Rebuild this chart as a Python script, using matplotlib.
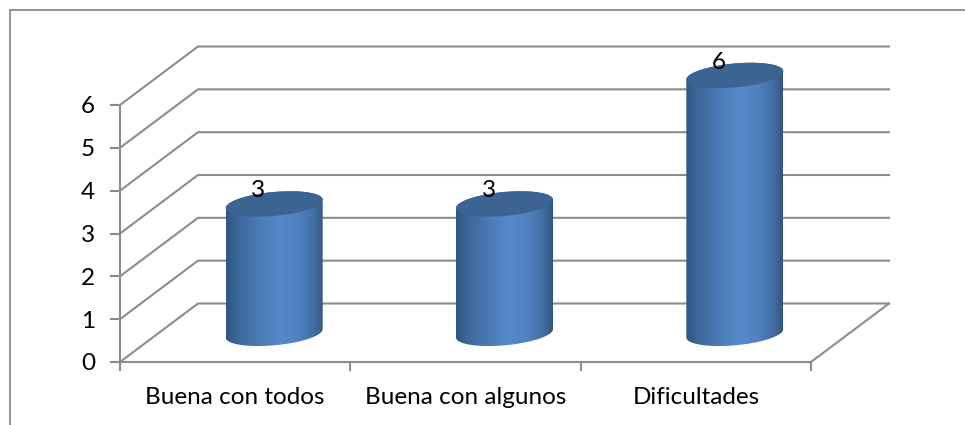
import numpy as np
import matplotlib
matplotlib.use('Agg')
import matplotlib.pyplot as plt
from matplotlib.colors import LinearSegmentedColormap
from matplotlib.patches import Polygon

categories = ['Buena con todos', 'Buena con algunos', 'Dificultades']
values = [3, 3, 6]
y_ticks = [0, 1, 2, 3, 4, 5, 6]

plt.rcParams['font.family'] = ['Lato', 'DejaVu Sans']

W, H = 965, 425
fig = plt.figure(figsize=(W / 100, H / 100), dpi=100)

px_x = 3 / 691
px_y = 6 / 257

# whole figure is one axes: x in categories, y in values (front plane of the 3d box)
ax = fig.add_axes([0, 0, 1, 1])
ax.set_xlim(-120 * px_x, (W - 120) * px_x)
ax.set_ylim(-(H - 362) * px_y, 362 * px_y)
ax.axis('off')

dx = 78 * px_x   # depth of the 3d box
dy = 58.5 * px_y
grid_c = '#8c8c8c'

# outer frame of the pasted chart, no right or bottom side
left, right = ax.get_xlim()
low, high = ax.get_ylim()
ax.plot([left + 10 * px_x, left + 10 * px_x, right], [low, high - 10 * px_y, high - 10 * px_y],
        color='#8a8a8a', lw=1.3, solid_joinstyle='miter', zorder=1)

for v in y_ticks:
    ax.plot([0, dx, 3 + dx], [v, v + dy, v + dy], color=grid_c, lw=1.5,
            solid_joinstyle='miter', zorder=1)
    ax.plot([-9 * px_x, 0], [v, v], color=grid_c, lw=1.5, zorder=1)
    ax.text(-25 * px_x, v - 2 * px_y, str(v), ha='right', va='center', fontsize=17.5, color='black')

ax.plot([0, 0], [0, 6], color=grid_c, lw=1.5, zorder=1)
ax.plot([0, 3, 3 + dx], [0, 0, dy], color=grid_c, lw=1.5, zorder=1)
for i in range(4):
    ax.plot([i, i], [0, -8 * px_y], color=grid_c, lw=1.5, zorder=1)

for i, c in enumerate(categories):
    ax.text(i + 0.5, -36 * px_y, c, ha='center', va='center', fontsize=17.5, color='black')

cmap = LinearSegmentedColormap.from_list('cyl', [
    (0.0, '#2f5684'), (0.12, '#3d6799'), (0.35, '#4b7cb6'), (0.55, '#5589c9'),
    (0.75, '#4f81bd'), (0.9, '#426ea3'), (1.0, '#32557f')])
grad = np.linspace(0, 1, 256).reshape(1, -1)

half_w = 48.5 * px_x
ry = 12 * px_y
tilt = 4.2 * px_y / half_w
t = np.linspace(0, 2 * np.pi, 181)

for i, v in enumerate(values):
    cx = i + 0.5 + 39 * px_x
    y0 = 0.67
    y1 = v + 0.69
    ex = half_w * np.cos(t)
    ey = ry * np.sin(t) + tilt * ex

    # body outline = bottom half of the base + top half of the lid
    lo = t[t >= np.pi]
    lx = half_w * np.cos(lo)
    ly = ry * np.sin(lo) + tilt * lx + y0
    up = t[t <= np.pi]
    ux = half_w * np.cos(up)
    uy = ry * np.sin(up) + tilt * ux + y1
    pts = np.column_stack([np.r_[cx + lx, cx + ux], np.r_[ly, uy]])
    body = Polygon(pts, closed=True, transform=ax.transData, fc='none', ec='none')
    ax.add_patch(body)
    im = ax.imshow(grad, cmap=cmap, aspect='auto', zorder=3,
                   extent=[cx - half_w, cx + half_w, 0, 8])
    im.set_clip_path(body)

    ax.fill(cx + ex, y1 + ey, color='#3c6492', lw=0, zorder=4)

    ax.text(cx - 16 * px_x, y1 + 13 * px_y, str(v), ha='center', va='center',
            fontsize=17.5, color='black', zorder=5)

ax.set_xlim(-120 * px_x, (W - 120) * px_x)
ax.set_ylim(-(H - 362) * px_y, 362 * px_y)
fig.savefig('out.png', dpi=100)
